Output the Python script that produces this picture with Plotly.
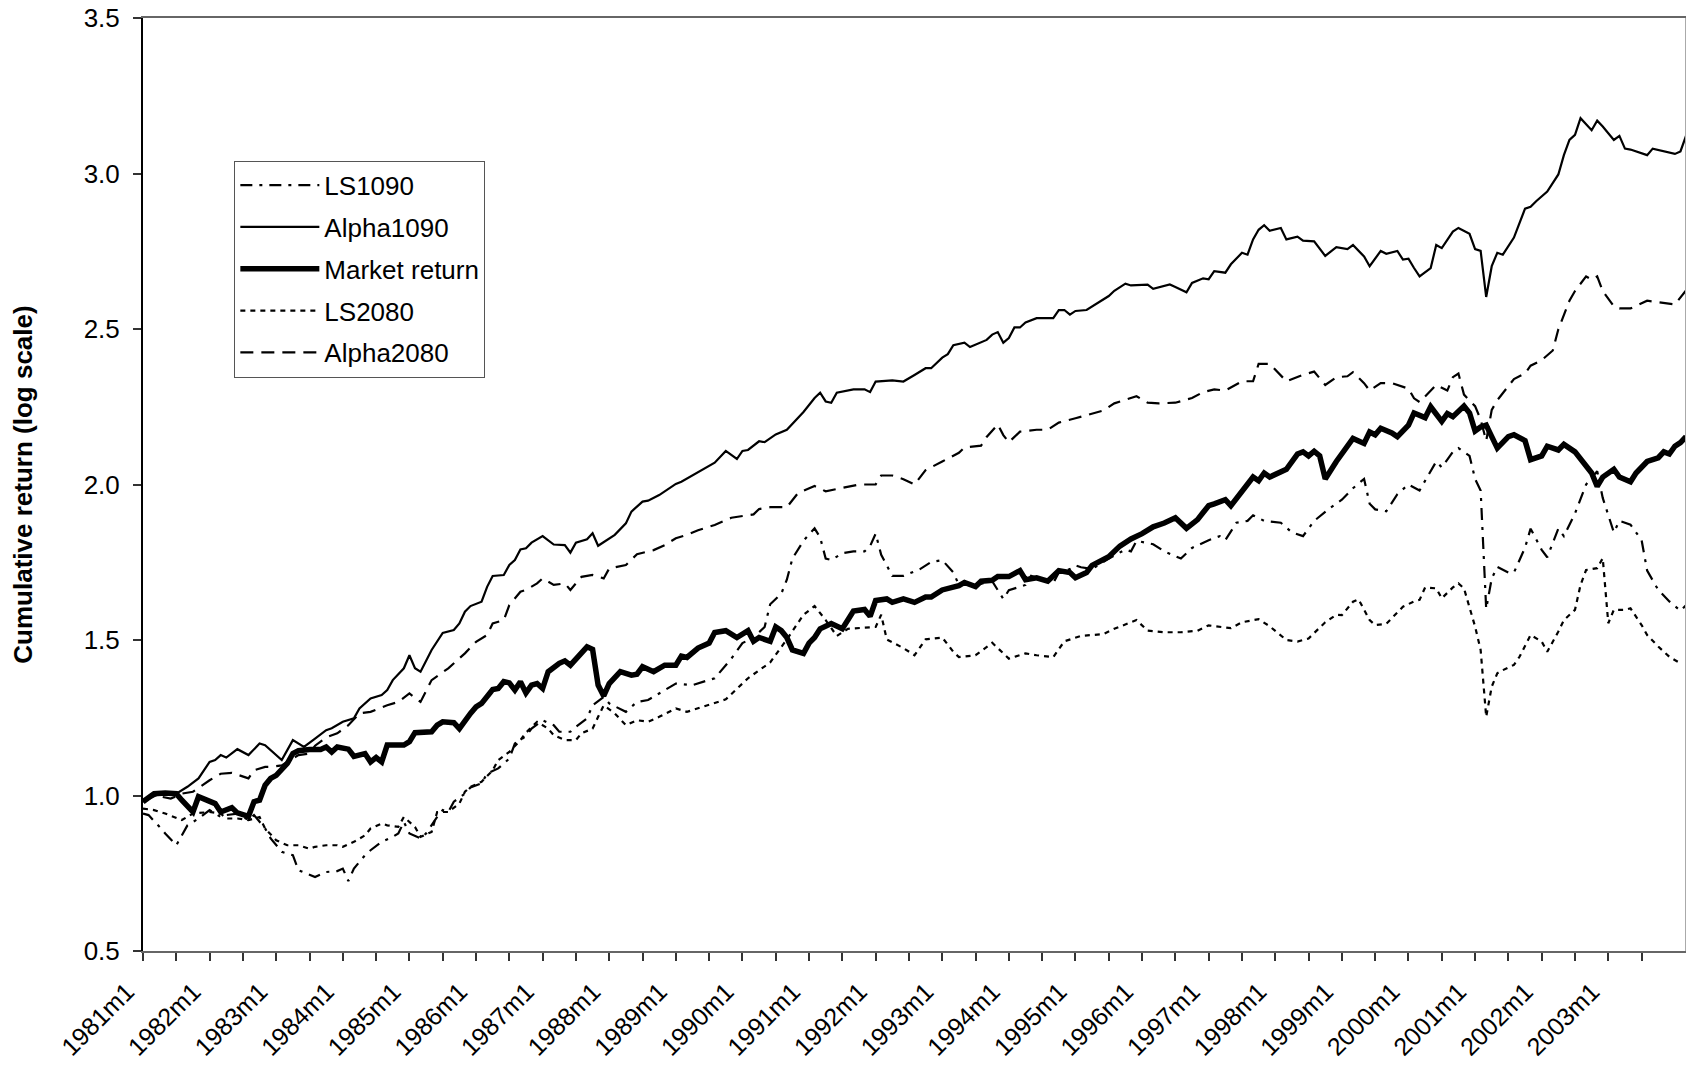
import plotly.graph_objects as go

# ---------------- data (month index: 0 = 1981m1) ----------------
years = list(range(1981, 2004))

ls1090_m = [0, 1, 3, 4, 6, 7, 8, 10, 12, 14, 15, 17, 19, 20, 22, 23, 25, 26, 27, 28, 30, 31, 33, 35, 36, 37, 38,
            40, 41, 43, 45, 46, 47, 48, 50, 51, 53, 54, 55, 56, 58, 59, 61, 62, 64, 66, 67, 69, 70, 72, 74, 75,
            77, 78, 80, 81, 83, 84, 87, 89, 91, 93, 96, 99, 103, 106, 108, 110, 112, 113, 115, 116, 117, 119,
            121, 122, 123, 124, 126, 128, 130, 131, 132, 133, 135, 137, 140, 142, 144, 146, 147, 150, 153, 155,
            156, 159, 160, 164, 165, 167, 168, 169, 171, 174, 177, 178, 179, 182, 184, 187, 189, 192, 194, 195,
            197, 199, 200, 202, 205, 207, 209, 211, 214, 216, 218, 220, 221, 222, 224, 226, 228, 230, 232, 233,
            234, 236, 237, 239, 240, 241, 242, 243, 244, 246, 247, 249, 250, 252, 253, 255, 256, 258, 260, 262,
            263, 265, 266, 268, 270, 271, 273, 275, 277, 278]
ls1090 = [0.942, 0.937, 0.899, 0.878, 0.840, 0.872, 0.904, 0.926, 0.953, 0.931, 0.937, 0.942, 0.921, 0.937, 0.894,
          0.862, 0.819, 0.813, 0.808, 0.760, 0.744, 0.738, 0.754, 0.757, 0.765, 0.725, 0.765, 0.808, 0.824, 0.851,
          0.867, 0.878, 0.915, 0.878, 0.862, 0.878, 0.931, 0.953, 0.947, 0.980, 1.006, 1.026, 1.039, 1.071, 1.087,
          1.119, 1.167, 1.191, 1.215, 1.242, 1.226, 1.205, 1.205, 1.221, 1.248, 1.290, 1.317, 1.296, 1.269, 1.301,
          1.307, 1.328, 1.360, 1.355, 1.377, 1.440, 1.490, 1.508, 1.542, 1.615, 1.649, 1.694, 1.762, 1.819, 1.859,
          1.830, 1.762, 1.757, 1.779, 1.785, 1.785, 1.802, 1.842, 1.774, 1.706, 1.706, 1.728, 1.751, 1.757, 1.717,
          1.677, 1.677, 1.689, 1.632, 1.660, 1.677, 1.706, 1.683, 1.717, 1.728, 1.740, 1.734, 1.728, 1.762, 1.791,
          1.785, 1.819, 1.808, 1.785, 1.762, 1.796, 1.821, 1.834, 1.821, 1.877, 1.883, 1.901, 1.883, 1.877, 1.846,
          1.834, 1.883, 1.926, 1.951, 1.988, 2.018, 1.938, 1.920, 1.914, 1.969, 2.000, 1.981, 2.043, 2.074, 2.055,
          2.105, 2.117, 2.092, 2.018, 1.981, 1.600, 1.698, 1.735, 1.717, 1.717, 1.797, 1.858, 1.790, 1.766, 1.858,
          1.834, 1.907, 2.000, 2.043, 1.957, 1.846, 1.883, 1.871, 1.821, 1.723, 1.661, 1.624, 1.594, 1.612]

alpha1090_m = [0, 3, 6, 8, 10, 12, 13, 14, 15, 17, 19, 21, 22, 25, 27, 29, 31, 33, 34, 36, 38, 39, 41, 43, 44, 45,
               47, 48, 49, 50, 52, 54, 56, 57, 58, 59, 61, 62, 63, 65, 66, 67, 68, 69, 70, 72, 74, 76, 77, 78, 80,
               81, 82, 84, 85, 87, 88, 90, 91, 93, 96, 97, 100, 103, 105, 107, 108, 109, 111, 112, 114, 116, 119,
               121, 122, 123, 124, 125, 128, 130, 131, 132, 135, 137, 139, 141, 142, 144, 145, 146, 148, 149, 152,
               153, 154, 155, 156, 157, 158, 159, 161, 164, 165, 166, 167, 168, 170, 172, 174, 175, 177, 178, 181,
               182, 185, 186, 188, 189, 191, 192, 193, 195, 196, 198, 199, 200, 201, 202, 203, 205, 206, 208, 209,
               211, 213, 215, 217, 218, 220, 221, 223, 224, 226, 227, 228, 229, 230, 232, 233, 234, 236, 237, 239,
               240, 241, 242, 243, 244, 245, 247, 249, 250, 251, 253, 255, 256, 257, 258, 259, 261, 262, 263, 265,
               266, 267, 268, 269, 271, 272, 274, 276, 277, 278]
alpha1090 = [0.980, 1.006, 1.006, 1.028, 1.055, 1.108, 1.114, 1.130, 1.122, 1.149, 1.130, 1.167, 1.162, 1.114,
             1.178, 1.156, 1.183, 1.210, 1.216, 1.237, 1.248, 1.280, 1.312, 1.323, 1.339, 1.371, 1.409, 1.451, 1.409,
             1.398, 1.468, 1.523, 1.532, 1.553, 1.591, 1.609, 1.623, 1.671, 1.706, 1.709, 1.741, 1.757, 1.791, 1.795,
             1.813, 1.834, 1.807, 1.805, 1.781, 1.813, 1.824, 1.843, 1.803, 1.827, 1.838, 1.875, 1.913, 1.945, 1.948,
             1.966, 2.002, 2.009, 2.040, 2.070, 2.108, 2.082, 2.108, 2.111, 2.139, 2.136, 2.161, 2.176, 2.233, 2.278,
             2.295, 2.267, 2.263, 2.295, 2.306, 2.306, 2.297, 2.331, 2.335, 2.331, 2.352, 2.374, 2.374, 2.408, 2.419,
             2.448, 2.456, 2.442, 2.465, 2.482, 2.490, 2.456, 2.471, 2.505, 2.505, 2.521, 2.535, 2.535, 2.561, 2.561,
             2.546, 2.558, 2.561, 2.584, 2.606, 2.623, 2.646, 2.640, 2.643, 2.629, 2.643, 2.635, 2.618, 2.648, 2.663,
             2.660, 2.686, 2.681, 2.708, 2.745, 2.739, 2.788, 2.819, 2.834, 2.816, 2.825, 2.788, 2.797, 2.784, 2.782,
             2.735, 2.763, 2.757, 2.770, 2.733, 2.702, 2.751, 2.742, 2.751, 2.723, 2.726, 2.696, 2.669, 2.696, 2.770,
             2.760, 2.813, 2.825, 2.806, 2.757, 2.751, 2.603, 2.702, 2.745, 2.739, 2.794, 2.887, 2.893, 2.911, 2.942,
             2.997, 3.059, 3.108, 3.124, 3.178, 3.139, 3.170, 3.151, 3.108, 3.121, 3.080, 3.077, 3.071, 3.059, 3.080,
             3.071, 3.063, 3.071, 3.121]

market_m = [0, 2, 4, 6, 7, 9, 10, 13, 14, 16, 17, 19, 20, 21, 22, 23, 24, 25, 26, 27, 28, 30, 32, 33, 34, 35, 37,
            38, 40, 41, 42, 43, 44, 47, 48, 49, 52, 53, 54, 56, 57, 59, 60, 61, 62, 63, 64, 65, 66, 67, 68, 69, 70,
            71, 72, 73, 75, 76, 77, 79, 80, 81, 82, 83, 84, 86, 88, 89, 90, 92, 94, 96, 97, 98, 100, 102, 103, 105,
            107, 109, 110, 111, 113, 114, 115, 116, 117, 119, 120, 121, 122, 124, 126, 128, 130, 131, 132, 134, 135,
            137, 139, 141, 142, 144, 147, 148, 150, 151, 153, 154, 156, 158, 159, 161, 163, 165, 167, 168, 170, 171,
            174, 176, 178, 180, 182, 184, 186, 188, 190, 191, 192, 193, 195, 196, 198, 200, 201, 202, 203, 205, 206,
            208, 209, 210, 211, 212, 213, 215, 217, 218, 220, 221, 222, 223, 225, 226, 228, 229, 231, 232, 234, 235,
            236, 238, 239, 240, 241, 242, 243, 244, 246, 247, 249, 250, 252, 253, 255, 256, 258, 260, 261, 262, 263,
            265, 266, 268, 269, 271, 273, 274, 275, 276, 277, 278]
market = [0.980, 1.006, 1.008, 1.006, 0.985, 0.947, 0.996, 0.974, 0.947, 0.961, 0.944, 0.933, 0.980, 0.985, 1.033,
          1.055, 1.065, 1.087, 1.103, 1.135, 1.144, 1.148, 1.148, 1.156, 1.140, 1.156, 1.149, 1.126, 1.135, 1.108,
          1.122, 1.108, 1.162, 1.162, 1.173, 1.202, 1.205, 1.226, 1.237, 1.234, 1.215, 1.264, 1.285, 1.296, 1.317,
          1.341, 1.344, 1.366, 1.362, 1.339, 1.366, 1.330, 1.355, 1.360, 1.344, 1.398, 1.425, 1.433, 1.419, 1.455,
          1.478, 1.470, 1.355, 1.320, 1.360, 1.398, 1.387, 1.390, 1.414, 1.398, 1.419, 1.419, 1.448, 1.444, 1.474,
          1.490, 1.524, 1.530, 1.508, 1.530, 1.496, 1.508, 1.496, 1.542, 1.530, 1.508, 1.468, 1.457, 1.490, 1.508,
          1.536, 1.553, 1.536, 1.593, 1.598, 1.576, 1.627, 1.632, 1.621, 1.632, 1.621, 1.638, 1.638, 1.661, 1.675,
          1.685, 1.672, 1.689, 1.692, 1.704, 1.704, 1.723, 1.694, 1.700, 1.689, 1.723, 1.717, 1.700, 1.717, 1.740,
          1.768, 1.802, 1.825, 1.842, 1.864, 1.876, 1.893, 1.859, 1.887, 1.910, 1.932, 1.938, 1.951, 1.932, 1.981,
          2.024, 2.012, 2.037, 2.024, 2.043, 2.049, 2.098, 2.105, 2.092, 2.107, 2.092, 2.018, 2.074, 2.123, 2.148,
          2.132, 2.169, 2.160, 2.181, 2.166, 2.154, 2.191, 2.230, 2.215, 2.250, 2.203, 2.228, 2.218, 2.252, 2.230,
          2.172, 2.185, 2.191, 2.154, 2.117, 2.154, 2.160, 2.141, 2.080, 2.092, 2.123, 2.111, 2.129, 2.105, 2.055,
          2.037, 1.994, 2.024, 2.049, 2.024, 2.009, 2.037, 2.074, 2.086, 2.105, 2.098, 2.123, 2.135, 2.154]

ls2080_m = [0, 2, 4, 7, 9, 12, 14, 15, 17, 19, 21, 22, 24, 26, 28, 30, 31, 33, 35, 36, 38, 40, 41, 43, 44, 46, 47,
            49, 50, 52, 53, 55, 57, 58, 59, 61, 63, 64, 66, 68, 69, 71, 73, 74, 76, 78, 79, 81, 82, 83, 85, 87, 89,
            91, 93, 96, 98, 105, 109, 113, 116, 119, 121, 123, 125, 127, 132, 133, 134, 137, 139, 141, 144, 146,
            147, 150, 153, 156, 159, 161, 164, 166, 169, 173, 175, 179, 181, 184, 187, 190, 192, 194, 196, 198, 201,
            203, 206, 208, 210, 213, 215, 216, 218, 219, 221, 222, 224, 227, 229, 230, 231, 233, 234, 236, 237, 238,
            240, 241, 242, 243, 244, 245, 247, 248, 250, 252, 253, 255, 256, 258, 259, 260, 262, 263, 264, 265, 267,
            268, 270, 271, 273, 275, 277]
ls2080 = [0.958, 0.953, 0.942, 0.921, 0.942, 0.947, 0.942, 0.926, 0.926, 0.921, 0.931, 0.894, 0.856, 0.840, 0.840,
          0.829, 0.835, 0.840, 0.840, 0.835, 0.851, 0.872, 0.894, 0.910, 0.904, 0.899, 0.931, 0.899, 0.867, 0.883,
          0.947, 0.947, 0.974, 1.012, 1.028, 1.044, 1.081, 1.114, 1.140, 1.178, 1.202, 1.237, 1.215, 1.194, 1.178,
          1.178, 1.200, 1.215, 1.253, 1.290, 1.264, 1.226, 1.242, 1.237, 1.253, 1.280, 1.269, 1.309, 1.377, 1.428,
          1.502, 1.581, 1.609, 1.564, 1.513, 1.536, 1.542, 1.581, 1.502, 1.474, 1.451, 1.502, 1.508, 1.462, 1.445,
          1.451, 1.491, 1.440, 1.457, 1.451, 1.445, 1.496, 1.513, 1.519, 1.536, 1.564, 1.530, 1.525, 1.525, 1.530,
          1.547, 1.542, 1.538, 1.557, 1.567, 1.544, 1.500, 1.495, 1.505, 1.557, 1.581, 1.580, 1.623, 1.631, 1.564,
          1.548, 1.552, 1.607, 1.624, 1.629, 1.669, 1.666, 1.634, 1.669, 1.682, 1.666, 1.543, 1.468, 1.253, 1.350,
          1.393, 1.403, 1.420, 1.446, 1.516, 1.495, 1.462, 1.527, 1.564, 1.597, 1.677, 1.725, 1.731, 1.763, 1.554,
          1.597, 1.597, 1.602, 1.548, 1.516, 1.479, 1.446, 1.425]

alpha2080_m = [0, 2, 5, 7, 9, 11, 12, 14, 16, 19, 20, 22, 23, 25, 28, 30, 31, 33, 35, 37, 39, 41, 44, 46, 48, 50,
               52, 55, 58, 60, 62, 63, 65, 66, 68, 69, 71, 72, 74, 76, 77, 79, 81, 83, 84, 87, 89, 92, 94, 96, 98,
               100, 103, 106, 108, 110, 111, 113, 116, 118, 121, 123, 126, 129, 132, 133, 135, 137, 139, 141, 144,
               147, 148, 151, 152, 154, 155, 156, 158, 161, 163, 165, 168, 171, 173, 175, 179, 181, 183, 186, 189,
               191, 193, 195, 198, 200, 201, 203, 204, 206, 209, 211, 213, 215, 217, 218, 220, 221, 223, 225, 228,
               229, 230, 233, 235, 236, 237, 238, 240, 241, 242, 243, 244, 247, 249, 250, 252, 254, 255, 256, 257,
               258, 260, 261, 262, 263, 265, 266, 268, 271, 274, 276, 278]
alpha2080 = [0.985, 1.001, 0.990, 1.006, 1.012, 1.038, 1.049, 1.070, 1.073, 1.055, 1.081, 1.092, 1.092, 1.097,
             1.130, 1.135, 1.160, 1.187, 1.200, 1.226, 1.264, 1.269, 1.290, 1.301, 1.328, 1.301, 1.371, 1.409, 1.457,
             1.494, 1.516, 1.553, 1.564, 1.612, 1.655, 1.661, 1.682, 1.698, 1.677, 1.682, 1.661, 1.703, 1.709, 1.698,
             1.730, 1.741, 1.776, 1.789, 1.805, 1.827, 1.838, 1.853, 1.870, 1.893, 1.898, 1.904, 1.921, 1.927, 1.927,
             1.972, 1.995, 1.978, 1.989, 2.000, 2.000, 2.029, 2.029, 2.017, 2.000, 2.046, 2.074, 2.102, 2.119, 2.125,
             2.153, 2.193, 2.159, 2.136, 2.170, 2.176, 2.176, 2.199, 2.213, 2.227, 2.238, 2.261, 2.284, 2.263, 2.261,
             2.263, 2.278, 2.297, 2.306, 2.302, 2.332, 2.332, 2.388, 2.388, 2.369, 2.332, 2.353, 2.363, 2.320, 2.345,
             2.348, 2.361, 2.326, 2.302, 2.326, 2.326, 2.308, 2.277, 2.265, 2.320, 2.302, 2.345, 2.357, 2.289, 2.252,
             2.209, 2.140, 2.240, 2.271, 2.339, 2.357, 2.382, 2.400, 2.431, 2.499, 2.542, 2.591, 2.622, 2.669, 2.659,
             2.669, 2.622, 2.573, 2.566, 2.566, 2.591, 2.585, 2.579, 2.624]

# ---------------- figure ----------------
FONT = "Liberation Sans, Arial, sans-serif"

tick_vals = [12 * i + k for i in range(len(years)) for k in (0, 6)]
tick_text = [(f"{y}m1" if k == 0 else "") for y in years for k in (0, 6)]

fig = go.Figure()
series = [
    ("LS1090", ls1090_m, ls1090, dict(color="black", width=2.2, dash="12px,7px,3px,7px")),
    ("Alpha1090", alpha1090_m, alpha1090, dict(color="black", width=2.2)),
    ("Market return", market_m, market, dict(color="black", width=5.5)),
    ("LS2080", ls2080_m, ls2080, dict(color="black", width=2.2, dash="5px,5px")),
    ("Alpha2080", alpha2080_m, alpha2080, dict(color="black", width=2.2, dash="13px,8px")),
]
for i, (name, xs, ys, line) in enumerate(series):
    fig.add_trace(go.Scatter(x=xs, y=ys, name=name, mode="lines", line=line,
                             legendgroup=f"g{i}"))

fig.update_layout(
    width=1686, height=1068,
    margin=dict(l=143, r=0, t=18, b=117),
    paper_bgcolor="white", plot_bgcolor="white",
    font=dict(family=FONT, size=26, color="black"),
    showlegend=True,
    legend=dict(x=0.0592, y=0.847, xanchor="left", yanchor="top",
                bordercolor="#555555", borderwidth=1, bgcolor="white",
                font=dict(family=FONT, size=26, color="black"),
                tracegroupgap=5, itemwidth=79, traceorder="grouped"),
    xaxis=dict(range=[0, 278], tickmode="array", tickvals=tick_vals, ticktext=tick_text,
               tickangle=-45, ticks="outside", ticklen=8, tickcolor="#333333", tickwidth=1.5,
               showline=True, linecolor="#666666", linewidth=2, mirror=True,
               showgrid=False, zeroline=False, ticklabelstandoff=6, ticklabelshift=-16,
               automargin=False, ticklabeloverflow="allow",
               tickfont=dict(family=FONT, size=25, color="black")),
    yaxis=dict(range=[0.5, 3.5], tickmode="array",
               tickvals=[0.5, 1.0, 1.5, 2.0, 2.5, 3.0, 3.5],
               ticktext=["0.5", "1.0", "1.5", "2.0", "2.5", "3.0", "3.5"],
               ticks="outside", ticklen=8, tickcolor="#333333", tickwidth=1.5,
               showline=True, linecolor="black", linewidth=2, automargin=False,
               showgrid=False, zeroline=False, ticklabelstandoff=8, ticklabeloverflow="allow",
               tickfont=dict(family=FONT, size=26, color="black"),
               title=dict(text="<b>Cumulative return (log scale)</b>", standoff=44,
                          font=dict(family=FONT, size=26, color="black"))),
    shapes=[dict(type="line", xref="paper", yref="paper", x0=1, x1=1, y0=0, y1=1,
                 line=dict(color="#aaaaaa", width=2))],
)

# remove the default page margin so the figure sits at the window's top-left corner
fig.write_html("out.html", config={"displayModeBar": False},
               post_script="document.body.style.margin='0';document.body.style.overflow='hidden';")
